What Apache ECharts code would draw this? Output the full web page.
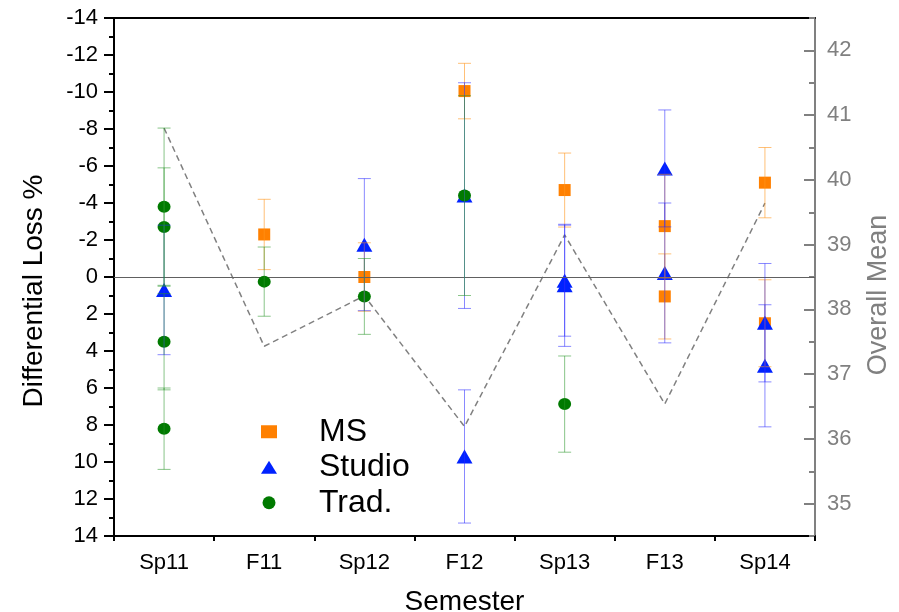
<!DOCTYPE html>
<html>
<head>
<meta charset="utf-8">
<script src="https://cdn.jsdelivr.net/npm/echarts@6/dist/echarts.min.js"></script>
<style>html,body{margin:0;padding:0;background:#fff}#c{width:899px;height:612px}</style>
</head>
<body>
<div id="c"></div>
<script>
const categories = ['Sp11','F11','Sp12','F12','Sp13','F13','Sp14'];

const msCat = ['F11','Sp12','F12','Sp13','F13','F13','Sp14','Sp14'];
const msVal = [-2.3, 0.0, -10.05, -4.7, -2.75, 1.05, -5.1, 2.5];
const msErr = [1.9, 1.85, 1.5, 2.0, 2.8, 2.3, 1.9, 2.35];

const studioCat = ['Sp11','Sp12','F12','F12','Sp13','Sp13','F13','F13','Sp14','Sp14'];
const studioVal = [0.7, -1.75, -4.4, 9.7, 0.2, 0.45, -5.87, -0.22, 2.47, 4.8];
const studioErr = [3.5, 3.57, 6.1, 3.6, 3.0, 3.3, 3.16, 3.78, 3.2, 3.3];

const tradCat = ['Sp11','Sp11','Sp11','Sp11','F11','Sp12','F12','Sp13'];
const tradVal = [-3.8, -2.7, 3.5, 8.2, 0.25, 1.05, -4.4, 6.87];
const tradErr = [4.25, 3.2, 2.6, 2.2, 1.87, 2.05, 5.4, 2.6];

const overallMean = [40.8, 37.43, 38.21, 36.19, 39.15, 36.54, 39.64];

const rightMajor = [35,36,37,38,39,40,41,42];

const FONT = 'Liberation Sans, Arial, sans-serif';

function pts(cats, vals) { return cats.map((c, i) => [categories.indexOf(c), vals[i]]); }
function bars(cats, vals, errs) { return cats.map((c, i) => [categories.indexOf(c), vals[i] - errs[i], vals[i] + errs[i]]); }

function errRender(color) {
  return function (params, api) {
    const x = api.value(0), lo = api.value(1), hi = api.value(2);
    const a = api.coord([x, lo]), b = api.coord([x, hi]);
    const hw = 6.5;
    const st = { stroke: color, lineWidth: 1 };
    return { type: 'group', children: [
      { type: 'line', shape: { x1: a[0], y1: a[1], x2: b[0], y2: b[1] }, style: st },
      { type: 'line', shape: { x1: a[0] - hw, y1: a[1], x2: a[0] + hw, y2: a[1] }, style: st },
      { type: 'line', shape: { x1: b[0] - hw, y1: b[1], x2: b[0] + hw, y2: b[1] }, style: st }
    ]};
  };
}

const chart = echarts.init(document.getElementById('c'), null, { renderer: 'canvas' });
chart.setOption({
  animation: false,
  backgroundColor: '#fff',
  textStyle: { fontFamily: FONT },
  grid: { left: 114, right: 84, top: 18, bottom: 76, containLabel: false, outerBoundsMode: 'none' },
  legend: {
    orient: 'vertical', left: 256, top: 409, itemGap: 0,
    itemWidth: 16, itemHeight: 13,
    textStyle: { fontSize: 32, color: '#000', fontFamily: FONT, lineHeight: 35.5, padding: [0, 0, 0, 37] },
    data: [
      { name: 'MS', icon: 'rect' },
      { name: 'Studio', icon: 'triangle' },
      { name: 'Trad.', icon: 'circle' }
    ]
  },
  xAxis: [
    { type: 'category', data: categories, position: 'bottom', boundaryGap: true,
      axisLine: { onZero: false, lineStyle: { color: '#000', width: 2 } },
      axisTick: { alignWithLabel: true, length: 10, lineStyle: { color: '#000', width: 2 } },
      axisLabel: { fontSize: 22, color: '#000', margin: 16, fontFamily: FONT },
      name: 'Semester', nameLocation: 'middle', nameGap: 52,
      nameTextStyle: { fontSize: 28, color: '#000', fontFamily: FONT },
      splitLine: { show: false } },
    { type: 'category', data: categories, position: 'bottom', boundaryGap: true,
      axisLine: { show: false, onZero: false },
      axisTick: { show: true, length: 5, lineStyle: { color: '#000', width: 2 } },
      axisLabel: { show: false }, splitLine: { show: false } },
    { type: 'category', data: categories, position: 'top',
      axisLine: { onZero: false, lineStyle: { color: '#000', width: 2 } },
      axisTick: { show: false }, axisLabel: { show: false }, splitLine: { show: false } }
  ],
  yAxis: [
    { type: 'value', position: 'left', min: -14, max: 14, interval: 2, inverse: true,
      axisLine: { show: true, onZero: false, lineStyle: { color: '#000', width: 2 } },
      axisTick: { show: true, length: 10, lineStyle: { color: '#000', width: 2 } },
      minorTick: { show: true, splitNumber: 2, length: 5, lineStyle: { color: '#000', width: 2 } },
      axisLabel: { fontSize: 22, color: '#000', margin: 16, fontFamily: FONT },
      splitLine: { show: false },
      name: 'Differential Loss %', nameLocation: 'middle', nameGap: 66, nameRotate: 90,
      nameTextStyle: { fontSize: 28, color: '#000', fontFamily: FONT, padding: [0, 28, 0, 0] } },
    { type: 'value', position: 'right', min: 34.5, max: 42.5, interval: 0.5,
      axisLine: { show: true, onZero: false, lineStyle: { color: '#808080', width: 2 } },
      axisTick: { show: true, inside: true, length: 6, lineStyle: { color: '#808080', width: 2 } },
      axisLabel: { fontSize: 22, color: '#808080', margin: 12, fontFamily: FONT,
        formatter: v => (rightMajor.indexOf(v) >= 0 ? String(v) : '') },
      splitLine: { show: false },
      name: 'Overall Mean', nameLocation: 'middle', nameGap: 50, nameRotate: 90,
      nameTextStyle: { fontSize: 27, color: '#808080', fontFamily: FONT, padding: [0, 36, 0, 0] } },
    { type: 'value', position: 'right', min: 34.5, max: 42.5,
      axisLine: { show: false, onZero: false },
      axisTick: { show: true, inside: true, length: 11, customValues: rightMajor, lineStyle: { color: '#808080', width: 2 } },
      axisLabel: { show: false }, splitLine: { show: false } }
  ],
  series: [
    { name: 'Overall', type: 'line', xAxisIndex: 0, yAxisIndex: 1, data: overallMean,
      symbol: 'none', lineStyle: { color: '#808080', width: 1.5, type: [6, 4] }, z: 1 },
    { name: 'MS', type: 'scatter', xAxisIndex: 0, yAxisIndex: 0, data: pts(msCat, msVal),
      symbol: 'rect', symbolSize: 12, itemStyle: { color: '#FF8000', opacity: 1 }, z: 3,
      markLine: { silent: true, symbol: 'none', label: { show: false },
        lineStyle: { color: '#606060', width: 1, type: 'solid' },
        emphasis: { disabled: true },
        data: [{ yAxis: 0 }] } },
    { name: 'Studio', type: 'scatter', xAxisIndex: 0, yAxisIndex: 0, data: pts(studioCat, studioVal),
      symbol: 'triangle', symbolSize: [16, 14], itemStyle: { color: '#0022FF', opacity: 1 }, z: 4 },
    { name: 'Trad.', type: 'scatter', xAxisIndex: 0, yAxisIndex: 0, data: pts(tradCat, tradVal),
      symbol: 'circle', symbolSize: [13, 12], itemStyle: { color: '#007A00', opacity: 1 }, z: 5 },
    { name: 'MS err', type: 'custom', xAxisIndex: 0, yAxisIndex: 0, data: bars(msCat, msVal, msErr),
      encode: { x: 0, y: [1, 2] }, renderItem: errRender('rgba(255,150,30,0.6)'), z: 6 },
    { name: 'Studio err', type: 'custom', xAxisIndex: 0, yAxisIndex: 0, data: bars(studioCat, studioVal, studioErr),
      encode: { x: 0, y: [1, 2] }, renderItem: errRender('rgba(40,40,255,0.55)'), z: 6 },
    { name: 'Trad. err', type: 'custom', xAxisIndex: 0, yAxisIndex: 0, data: bars(tradCat, tradVal, tradErr),
      encode: { x: 0, y: [1, 2] }, renderItem: errRender('rgba(40,150,40,0.55)'), z: 6 }
  ]
});
</script>
</body>
</html>
